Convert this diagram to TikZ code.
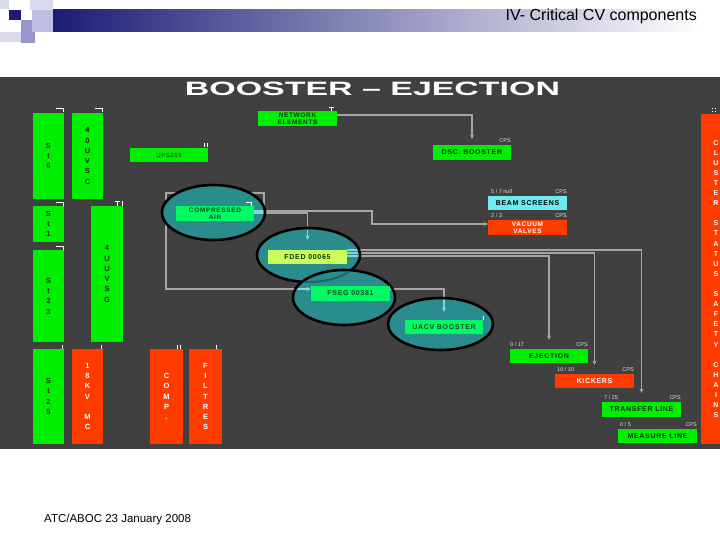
\documentclass[tikz,border=0pt]{standalone}
\usepackage{fontspec}
\usepackage{graphicx}
\setmainfont{Liberation Sans}
\newfontfamily\lblfont[LetterSpace=10]{Liberation Sans}
\usetikzlibrary{arrows.meta,calc}

\definecolor{panelgray}{RGB}{64,64,64}
\definecolor{bgreen}{RGB}{0,238,0}
\definecolor{sgreen}{RGB}{0,250,100}
\definecolor{ygreen}{RGB}{200,255,90}
\definecolor{bred}{RGB}{255,60,0}
\definecolor{bcyan}{RGB}{110,235,240}
\definecolor{ellteal}{RGB}{42,140,140}
\definecolor{conngray}{RGB}{165,165,165}
\definecolor{conncyan}{RGB}{140,210,215}
\definecolor{gtext}{RGB}{10,50,10}
\definecolor{stext}{RGB}{0,80,30}
\definecolor{tinytxt}{RGB}{225,225,225}
\definecolor{hnavy}{RGB}{28,28,118}
\definecolor{lavA}{RGB}{218,218,236}
\definecolor{lavB}{RGB}{190,190,225}
\definecolor{lavC}{RGB}{150,150,205}

\tikzset{
  boxbase/.style={anchor=north west, inner sep=0pt, outer sep=0pt, align=center},
  gbox/.style={boxbase, fill=bgreen, text=gtext},
  sbox/.style={boxbase, fill=sgreen, text=stext},
  ybox/.style={boxbase, fill=ygreen, text=gtext},
  rbox/.style={boxbase, fill=bred, text=white},
  cbox/.style={boxbase, fill=bcyan, text=black},
  vlab/.style={font=\fontsize{7.5}{10.3}\selectfont\bfseries},
  vlabR/.style={font=\fontsize{7}{10.1}\selectfont\bfseries},
  hlab/.style={font=\lblfont\fontsize{7}{7}\selectfont\bfseries},
  hlabtwo/.style={font=\lblfont\fontsize{6.5}{7}\selectfont\bfseries},
  tinylab/.style={font=\fontsize{5.5}{6}\selectfont, text=tinytxt, inner sep=0pt},
  ell/.style={draw=black, line width=2.6pt, fill=ellteal},
  conn/.style={draw=conngray, line width=1.1pt},
  conninner/.style={draw=conncyan, line width=1.1pt},
  arr/.style={-{Stealth[length=4.5pt,width=4pt]}},
  tickmark/.style={draw=white, line width=0.7pt},
}

\begin{document}
\begin{tikzpicture}[x=1pt,y=-1pt]
\useasboundingbox (0,0) rectangle (720,540);
\fill[white] (0,0) rectangle (720,540);

% header decoration
\shade[left color=hnavy, right color=white] (53,10) rectangle (700,32);
\fill[lavA] (0,0) rectangle (9,9);
\fill[lavA] (30,0) rectangle (53,10);
\fill[hnavy] (9,10) rectangle (21,20);
\fill[lavB] (32,10) rectangle (53,32);
\fill[lavC] (21,20) rectangle (32,32);
\fill[lavA] (0,32) rectangle (21,42);
\fill[lavC] (21,32) rectangle (35,43);
\node[anchor=east, inner sep=0pt, font=\fontsize{16}{18}\selectfont] (hdr) at (697,16) {IV- Critical CV components};

% footer
\node[anchor=base west, inner sep=0pt, font=\fontsize{11.5}{12}\selectfont] (foot) at (44,522) {ATC/ABOC 23 January 2008};

% panel
\fill[panelgray] (0,77) rectangle (720,449);
\node[text=white, inner sep=0pt] (title) at (372.5,89) {\resizebox{375pt}{13.5pt}{\bfseries BOOSTER – EJECTION}};

% nodes (placed first so connectors can refer to them; redrawn on top later)
\path
  node[gbox, minimum width=79pt, minimum height=15pt, hlabtwo] (net) at (258,111) {NETWORK\\ELEMENTS}
  node[gbox, minimum width=78pt, minimum height=15pt, hlab] (dsc) at (433,145) {DSC. BOOSTER}
  node[sbox, minimum width=78pt, minimum height=15pt, hlabtwo] (ca) at (176,206) {COMPRESSED\\AIR}
  node[ybox, minimum width=79pt, minimum height=14pt, hlab] (fded) at (268,250) {FDED 00065}
  node[sbox, minimum width=79pt, minimum height=15pt, hlab] (fseg) at (311,286) {FSEG 00381}
  node[sbox, minimum width=78pt, minimum height=14pt, hlab] (uacv) at (405,320) {UACV BOOSTER}
  node[cbox, minimum width=79pt, minimum height=14pt, hlab] (beam) at (488,196) {BEAM SCREENS}
  node[rbox, minimum width=79pt, minimum height=15pt, hlabtwo] (vac) at (488,220) {VACUUM\\VALVES}
  node[gbox, minimum width=78pt, minimum height=14pt, hlab] (ej) at (510,349) {EJECTION}
  node[rbox, minimum width=79pt, minimum height=14pt, hlab] (kick) at (555,374) {KICKERS}
  node[gbox, minimum width=79pt, minimum height=15pt, hlab] (trans) at (602,402) {TRANSFER LINE}
  node[gbox, minimum width=79pt, minimum height=14pt, hlab] (meas) at (618,429) {MEASURE LINE};

% connectors (under ellipses)
\draw[conn, arr, shorten >=6pt] ([yshift=3.5pt]net.east) -| (dsc.north);
\draw[conn, arr] ([yshift=2.5pt]ca.east) -- (264,211) -- (264,193) -- (166,193) -- (166,289) -- ([yshift=4.5pt]fseg.west);
\draw[conn, arr] ([yshift=2.5pt]ca.east) -- (372,211) -- (372,224) -- ([yshift=3.5pt]vac.west);
\draw[conn, arr, shorten >=10pt] ([yshift=0.5pt]ca.east) -| (fded.north);
\draw[conn, arr, shorten >=9pt] ([yshift=7pt]fded.east) -| (trans.north);
\draw[conn, arr, shorten >=9pt] ([yshift=4pt]fded.east) -| (kick.north);
\draw[conn, arr, shorten >=9pt] ([yshift=1pt]fded.east) -| (ej.north);
\draw[conn, arr, shorten >=8pt] ([yshift=4.5pt]fseg.east) -| (uacv.north);

% ellipses
\path[ell] (213.5,212.5) ellipse [x radius=51.5, y radius=27.5];
\path[ell] (308.5,255) ellipse [x radius=51.5, y radius=27];
\path[ell] (344,297.5) ellipse [x radius=51, y radius=27.5];
\path[ell] (440.5,324) ellipse [x radius=52.5, y radius=26];
\begin{scope}
  \clip (344,297.5) ellipse [x radius=49, y radius=25.5];
  \draw[draw={rgb,255:red,25;green,105;blue,105}, line width=2pt] (308.5,255) ellipse [x radius=51.5, y radius=27];
\end{scope}

% connector parts inside ellipses
\begin{scope}
  \clip (213.5,212.5) ellipse [x radius=50, y radius=26]
        (308.5,255) ellipse [x radius=50, y radius=25.5]
        (344,297.5) ellipse [x radius=49.5, y radius=26]
        (440.5,324) ellipse [x radius=51, y radius=24.5];
  \draw[conninner] ([yshift=2.5pt]ca.east) -- (264,211);
  \draw[conninner, arr] (166,289) -- ([yshift=4.5pt]fseg.west);
  \draw[conninner, arr, shorten >=10pt] ([yshift=0.5pt]ca.east) -| (fded.north);
  \draw[conninner] ([yshift=7pt]fded.east) -- ++(20,0);
  \draw[conninner] ([yshift=4pt]fded.east) -- ++(20,0);
  \draw[conninner] ([yshift=1pt]fded.east) -- ++(20,0);
  \draw[conninner, arr, shorten >=8pt] ([yshift=4.5pt]fseg.east) -| (uacv.north);
\end{scope}

% boxes on top
\path
  node[gbox, minimum width=79pt, minimum height=15pt, hlabtwo] at (258,111) {NETWORK\\ELEMENTS}
  node[gbox, minimum width=78pt, minimum height=15pt, hlab] at (433,145) {DSC. BOOSTER}
  node[sbox, minimum width=78pt, minimum height=15pt, hlabtwo] at (176,206) {COMPRESSED\\AIR}
  node[ybox, minimum width=79pt, minimum height=14pt, hlab] at (268,250) {FDED 00065}
  node[sbox, minimum width=79pt, minimum height=15pt, hlab] at (311,286) {FSEG 00381}
  node[sbox, minimum width=78pt, minimum height=14pt, hlab] at (405,320) {UACV BOOSTER};

% left column
\node[gbox, vlab, minimum width=31pt, minimum height=86pt] (st6) at (33,113) {S\\t\\6};
\node[gbox, vlab, minimum width=31pt, minimum height=86pt] (uvsc) at (72,113) {4\\0\\U\\V\\S\\C};
\node[gbox, hlab, minimum width=78pt, minimum height=14pt, font=\lblfont\fontsize{6}{7}\selectfont] (ups) at (130,148) {UPS259};
\node[gbox, vlab, minimum width=31pt, minimum height=36pt] (st1) at (33,206) {S\\t\\1};
\node[gbox, vlab, minimum width=31pt, minimum height=92pt] (st23) at (33,250) {S\\t\\2\\3};
\node[gbox, vlab, minimum width=32pt, minimum height=136pt] (uvsg) at (91,206) {4\\U\\U\\V\\S\\G};
\node[gbox, vlab, minimum width=31pt, minimum height=95pt] (st25) at (33,349) {S\\t\\2\\5};
\node[rbox, vlab, minimum width=31pt, minimum height=95pt] (kv) at (72,349) {1\\8\\K\\V\\\mbox{}\\M\\C};
\node[rbox, vlab, minimum width=33pt, minimum height=95pt] (comp) at (150,349) {C\\O\\M\\P\\.};
\node[rbox, vlab, minimum width=33pt, minimum height=95pt] (filt) at (189,349) {F\\I\\L\\T\\R\\E\\S};

% right big box
\node[rbox, vlabR, minimum width=30pt, minimum height=330pt] (chains) at (701,114) {C\\L\\U\\S\\T\\E\\R\\\mbox{}\\S\\T\\A\\T\\U\\S\\\mbox{}\\S\\A\\F\\E\\T\\Y\\\mbox{}\\C\\H\\A\\I\\N\\S};

% tiny labels
\node[tinylab, anchor=south east] (dscR) at ([yshift=2pt]dsc.north east) {CPS};
\node[tinylab, anchor=south west] (beamL) at ([xshift=3pt,yshift=2pt]beam.north west) {5 / 7 null};
\node[tinylab, anchor=south east] (beamR) at ([yshift=2pt]beam.north east) {CPS};
\node[tinylab, anchor=south west] (vacL) at ([xshift=3pt,yshift=2pt]vac.north west) {2 / 3};
\node[tinylab, anchor=south east] (vacR) at ([yshift=2pt]vac.north east) {CPS};
\node[tinylab, anchor=south west] (ejL) at ([yshift=2pt]ej.north west) {0 / 17};
\node[tinylab, anchor=south east] (ejR) at ([yshift=2pt]ej.north east) {CPS};
\node[tinylab, anchor=south west] (kickL) at ([xshift=2pt,yshift=2pt]kick.north west) {10 / 10};
\node[tinylab, anchor=south east] (kickR) at ([yshift=2pt]kick.north east) {CPS};
\node[tinylab, anchor=south west] (transL) at ([xshift=2pt,yshift=2pt]trans.north west) {7 / 25};
\node[tinylab, anchor=south east] (transR) at ([yshift=2pt]trans.north east) {CPS};
\node[tinylab, anchor=south west] (measL) at ([xshift=2pt,yshift=2pt]meas.north west) {0 / 5};
\node[tinylab, anchor=south east] (measR) at ([yshift=2pt]meas.north east) {CPS};

% small white marks
\draw[tickmark] (56,108) -- (63,108) -- (63,112);
\draw[tickmark] (95,108) -- (102,108) -- (102,112);
\draw[tickmark] (204,143) -- (204,147) (207,143) -- (207,147);
\draw[tickmark] (56,202) -- (63,202) -- (63,206);
\draw[tickmark] (115,201) -- (120,201) (117.5,201) -- (117.5,206) (122,201) -- (122,206);
\draw[tickmark] (56,246) -- (63,246) -- (63,250);
\draw[tickmark] (62,345) -- (62,349);
\draw[tickmark] (101,345) -- (101,349);
\draw[tickmark] (177,345) -- (177,349) (180,345) -- (180,349);
\draw[tickmark] (216,345) -- (216,349);
\draw[tickmark] (329,107) -- (334,107) (331.5,107) -- (331.5,111);
\draw[tickmark] (246,202) -- (251,202) -- (251,206);
\draw[tickmark] (483,316) -- (483,320);
\draw[tickmark] (712,108) -- (712,109.5) (712,111) -- (712,112.5) (715,108) -- (715,109.5) (715,111) -- (715,112.5);
\end{tikzpicture}
\end{document}
